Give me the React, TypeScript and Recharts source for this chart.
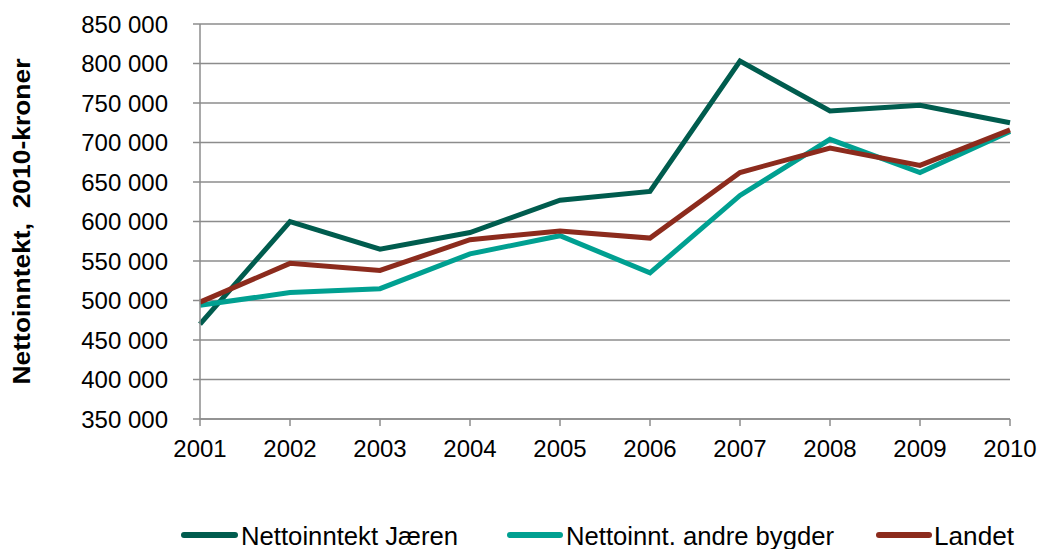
import { CartesianGrid, Legend, Line, LineChart, XAxis, YAxis } from "recharts";

const years = ["2001", "2002", "2003", "2004", "2005", "2006", "2007", "2008", "2009", "2010"];
const jaeren = [470000, 600000, 565000, 586000, 627000, 638000, 803000, 740000, 747000, 725000];
const andreBygder = [494000, 510000, 515000, 559000, 582000, 535000, 633000, 704000, 662000, 714000];
const landet = [498000, 547000, 538000, 577000, 588000, 579000, 662000, 693000, 671000, 716000];
const yTicks = [350000, 400000, 450000, 500000, 550000, 600000, 650000, 700000, 750000, 800000, 850000];
const seriesNames = ["Nettoinntekt Jæren", "Nettoinnt. andre bygder", "Landet"];

const data = years.map((year, i) => ({
  year,
  jaeren: jaeren[i],
  andre: andreBygder[i],
  landet: landet[i],
}));

const FONT = '"Liberation Sans", Arial, sans-serif';
const GRID = "#8c8c8c";

// legend item placement (line start/end, text start, text width), same order as seriesNames
const legendSlots = [
  { x1: 184, x2: 235, tx: 241, w: 217 },
  { x1: 510, x2: 560, tx: 566, w: 268 },
  { x1: 879, x2: 929, tx: 934, w: 80 },
];

const fmt = (v: number) => {
  const s = String(v);
  return s.slice(0, s.length - 3) + " " + s.slice(-3);
};

const YLabel = ({ viewBox }: any) => {
  const cy = viewBox.y + viewBox.height / 2;
  return (
    <text
      x={21}
      y={cy}
      transform={`rotate(-90, 21, ${cy})`}
      textAnchor="middle"
      dominantBaseline="central"
      fontFamily={FONT}
      fontWeight="bold"
      fontSize={24}
      fill="#000"
      textLength={326}
      lengthAdjust="spacingAndGlyphs"
      style={{ whiteSpace: "pre" }}
    >
      {"Nettoinntekt,  2010-kroner"}
    </text>
  );
};

const renderLegend = ({ payload }: any) => (
  <svg width={1041} height={34} style={{ display: "block", overflow: "visible" }}>
    {(payload || []).map((entry: any) => {
      const idx = seriesNames.indexOf(entry.value);
      const slot = legendSlots[idx < 0 ? 0 : idx];
      return (
        <g key={`leg-${entry.value}`}>
          <line
            x1={slot.x1}
            x2={slot.x2}
            y1={20}
            y2={20}
            stroke={entry.color}
            strokeWidth={6}
            strokeLinecap="round"
          />
          <text
            x={slot.tx}
            y={30}
            fontFamily={FONT}
            fontSize={25}
            fill="#000"
            textLength={slot.w}
            lengthAdjust="spacingAndGlyphs"
          >
            {entry.value}
          </text>
        </g>
      );
    })}
  </svg>
);

export default function App() {
  return (
    <div style={{ position: "absolute", left: 0, top: 0, width: 1041, height: 549, overflow: "hidden" }}>
      <LineChart
        width={1041}
        height={549}
        data={data}
        margin={{ top: 24, right: 31, left: 0, bottom: 0 }}
        style={{ overflow: "visible" }}
      >
        <CartesianGrid vertical={false} stroke={GRID} strokeWidth={1.5} />
        <XAxis
          dataKey="year"
          height={96}
          padding={{ left: 0, right: 0 }}
          tickSize={7}
          tickMargin={14}
          axisLine={{ stroke: GRID, strokeWidth: 1.5 }}
          tickLine={{ stroke: GRID, strokeWidth: 1.5 }}
          tick={{ fill: "#000", fontSize: 24, fontFamily: FONT }}
          interval={0}
        />
        <YAxis
          width={200}
          domain={[350000, 850000]}
          ticks={yTicks}
          interval={0}
          tickFormatter={fmt}
          tickSize={7}
          tickMargin={25}
          axisLine={{ stroke: GRID, strokeWidth: 1.5 }}
          tickLine={{ stroke: GRID, strokeWidth: 1.5 }}
          tick={{ fill: "#000", fontSize: 24, fontFamily: FONT }}
          label={<YLabel />}
        />
        <Legend verticalAlign="bottom" content={renderLegend} wrapperStyle={{ left: 0, width: 1041 }} />
        <Line
          name={seriesNames[0]}
          dataKey="jaeren"
          stroke="#005c4e"
          strokeWidth={5}
          dot={false}
          isAnimationActive={false}
        />
        <Line
          name={seriesNames[1]}
          dataKey="andre"
          stroke="#00a091"
          strokeWidth={5}
          dot={false}
          isAnimationActive={false}
        />
        <Line
          name={seriesNames[2]}
          dataKey="landet"
          stroke="#8c2b1d"
          strokeWidth={5}
          dot={false}
          isAnimationActive={false}
        />
      </LineChart>
    </div>
  );
}
